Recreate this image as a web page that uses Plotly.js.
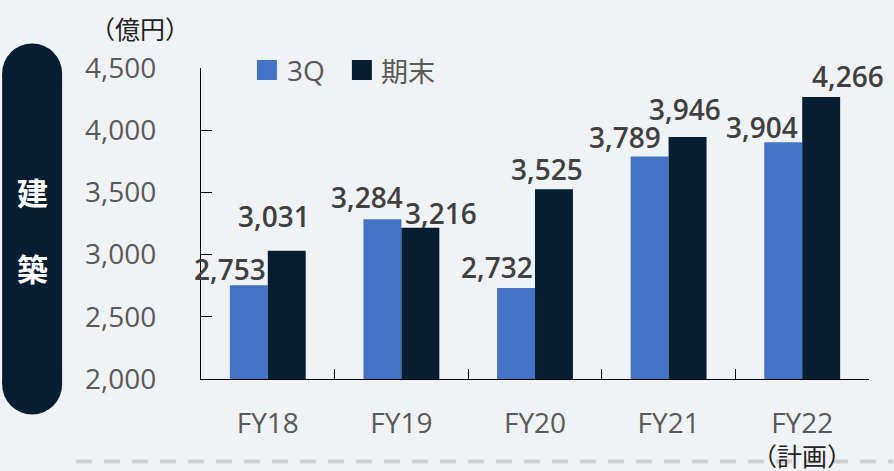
<!DOCTYPE html>
<html>
<head>
<meta charset="utf-8">
<script src="https://cdn.plot.ly/plotly-3.0.1.min.js"></script>
<style>
  html, body { margin: 0; padding: 0; background: #f0f3f5; }
  #chart { width: 894px; height: 471px; }
</style>
</head>
<body>
<div id="chart"></div>
<script>
// ---- data ----
const categories = ["FY18", "FY19", "FY20", "FY21", "FY22"];
const seriesNames = ["3Q", "期末"];
const values3Q = [2753, 3284, 2732, 3789, 3904];
const valuesEnd = [3031, 3216, 3525, 3946, 4266];
const yTickVals = [2000, 2500, 3000, 3500, 4000, 4500];
const unitLabel = "（億円）";
const sideLabel = ["建", "築"];
const planLabel = "（計画）";

// ---- style ----
const BG = "#f0f3f5";
const BLUE = "#4472c4";
const NAVY = "#071d31";
const FONT = "'Open Sans', 'Noto Sans CJK JP', sans-serif";
const CJK = "'Noto Sans CJK JP', 'Open Sans', sans-serif";
// label offsets (px) relative to bar top / category centre
const dx3Q = [-38, -34, -38, -44, -40];
const dy3Q = [16, 22, 21, 19, 15];
const dxEnd = [6, 40, 12, 16, 46];
const dyEnd = [35, 15, 20, 28, 21];

const L = 201, R = 24.5, T = 68, B = 92;
const W = 894, H = 471;
const PW = W - L - R, PH = H - T - B;
const px = x => (x - L) / PW;          // pixel -> paper x
const py = y => (H - B - y) / PH;      // pixel -> paper y

const fmt = v => v.toLocaleString("en-US");

const traces = [
  { type: "bar", name: seriesNames[0], x: categories, y: values3Q,
    marker: { color: BLUE }, hoverinfo: "skip" },
  { type: "bar", name: seriesNames[1], x: categories, y: valuesEnd,
    marker: { color: NAVY }, hoverinfo: "skip" }
];

const annotations = [];
categories.forEach((c, i) => {
  annotations.push({ x: c, y: values3Q[i], xref: "x", yref: "y", text: fmt(values3Q[i]),
    showarrow: false, xanchor: "center", yanchor: "middle", xshift: dx3Q[i], yshift: dy3Q[i],
    font: { family: FONT, size: 28, weight: 600, color: "#404040" } });
  annotations.push({ x: c, y: valuesEnd[i], xref: "x", yref: "y", text: fmt(valuesEnd[i]),
    showarrow: false, xanchor: "center", yanchor: "middle", xshift: dxEnd[i], yshift: dyEnd[i],
    font: { family: FONT, size: 28, weight: 600, color: "#404040" } });
});
// unit label
annotations.push({ x: px(140), y: py(28), xref: "paper", yref: "paper", text: unitLabel,
  showarrow: false, xanchor: "center", yanchor: "middle",
  font: { family: CJK, size: 25, color: "#222222" } });
// side pill text
annotations.push({ x: px(32), y: py(191), xref: "paper", yref: "paper", text: sideLabel[0],
  showarrow: false, xanchor: "center", yanchor: "middle",
  font: { family: CJK, size: 31, weight: 700, color: "#ffffff" } });
annotations.push({ x: px(32), y: py(267), xref: "paper", yref: "paper", text: sideLabel[1],
  showarrow: false, xanchor: "center", yanchor: "middle",
  font: { family: CJK, size: 31, weight: 700, color: "#ffffff" } });
// plan label
annotations.push({ x: px(802), y: py(455), xref: "paper", yref: "paper", text: planLabel,
  showarrow: false, xanchor: "center", yanchor: "middle",
  font: { family: CJK, size: 25, color: "#222222" } });
// legend texts
annotations.push({ x: px(285), y: py(70), xref: "paper", yref: "paper", text: seriesNames[0],
  showarrow: false, xanchor: "left", yanchor: "middle",
  font: { family: FONT, size: 28, color: "#595959" } });
annotations.push({ x: px(379), y: py(70), xref: "paper", yref: "paper", text: seriesNames[1],
  showarrow: false, xanchor: "left", yanchor: "middle",
  font: { family: CJK, size: 27, color: "#595959" } });

const shapes = [
  // pill
  { type: "rect", xref: "paper", yref: "paper", x0: px(2), x1: px(62), y0: py(74), y1: py(384),
    fillcolor: NAVY, line: { width: 0 }, layer: "below" },
  { type: "circle", xref: "paper", yref: "paper", x0: px(2), x1: px(62), y0: py(43.5), y1: py(103.5),
    fillcolor: NAVY, line: { width: 0 }, layer: "below" },
  { type: "circle", xref: "paper", yref: "paper", x0: px(2), x1: px(62), y0: py(354.5), y1: py(414.5),
    fillcolor: NAVY, line: { width: 0 }, layer: "below" },
  // legend squares
  { type: "rect", xref: "paper", yref: "paper", x0: px(257), x1: px(277), y0: py(80), y1: py(60),
    fillcolor: BLUE, line: { width: 0 } },
  { type: "rect", xref: "paper", yref: "paper", x0: px(352), x1: px(372), y0: py(80), y1: py(60),
    fillcolor: NAVY, line: { width: 0 } },
  // dashed separator
  { type: "line", xref: "paper", yref: "paper", x0: px(76), x1: px(894), y0: py(461.5), y1: py(461.5),
    line: { color: "#d0d0d0", width: 4, dash: "16px,12px" }, layer: "below" }
];

const layout = {
  width: W, height: H,
  margin: { l: L, r: R, t: T, b: B, pad: 0 },
  paper_bgcolor: BG, plot_bgcolor: BG,
  showlegend: false,
  barmode: "group", bargap: 0.432, bargroupgap: 0,
  font: { family: FONT, color: "#595959" },
  xaxis: {
    type: "category", range: [-0.5, categories.length - 0.5], autorange: false,
    showline: true, linecolor: "#000000", linewidth: 1,
    ticks: "inside", tickson: "boundaries", ticklen: 10, tickcolor: "#000000",
    showgrid: false, zeroline: false, fixedrange: true,
    tickfont: { family: FONT, size: 28, color: "#595959" }, ticklabelstandoff: 19
  },
  yaxis: {
    range: [2000, 4500], autorange: false, tickvals: yTickVals, tickformat: ",d",
    showline: true, linecolor: "#000000", linewidth: 1,
    ticks: "inside", ticklen: 11, tickcolor: "#000000",
    showgrid: false, zeroline: false, fixedrange: true,
    tickfont: { family: FONT, size: 28, color: "#595959" }, ticklabelstandoff: 38
  },
  annotations: annotations,
  shapes: shapes
};

Plotly.newPlot("chart", traces, layout, { staticPlot: true, displayModeBar: false });
</script>
</body>
</html>
